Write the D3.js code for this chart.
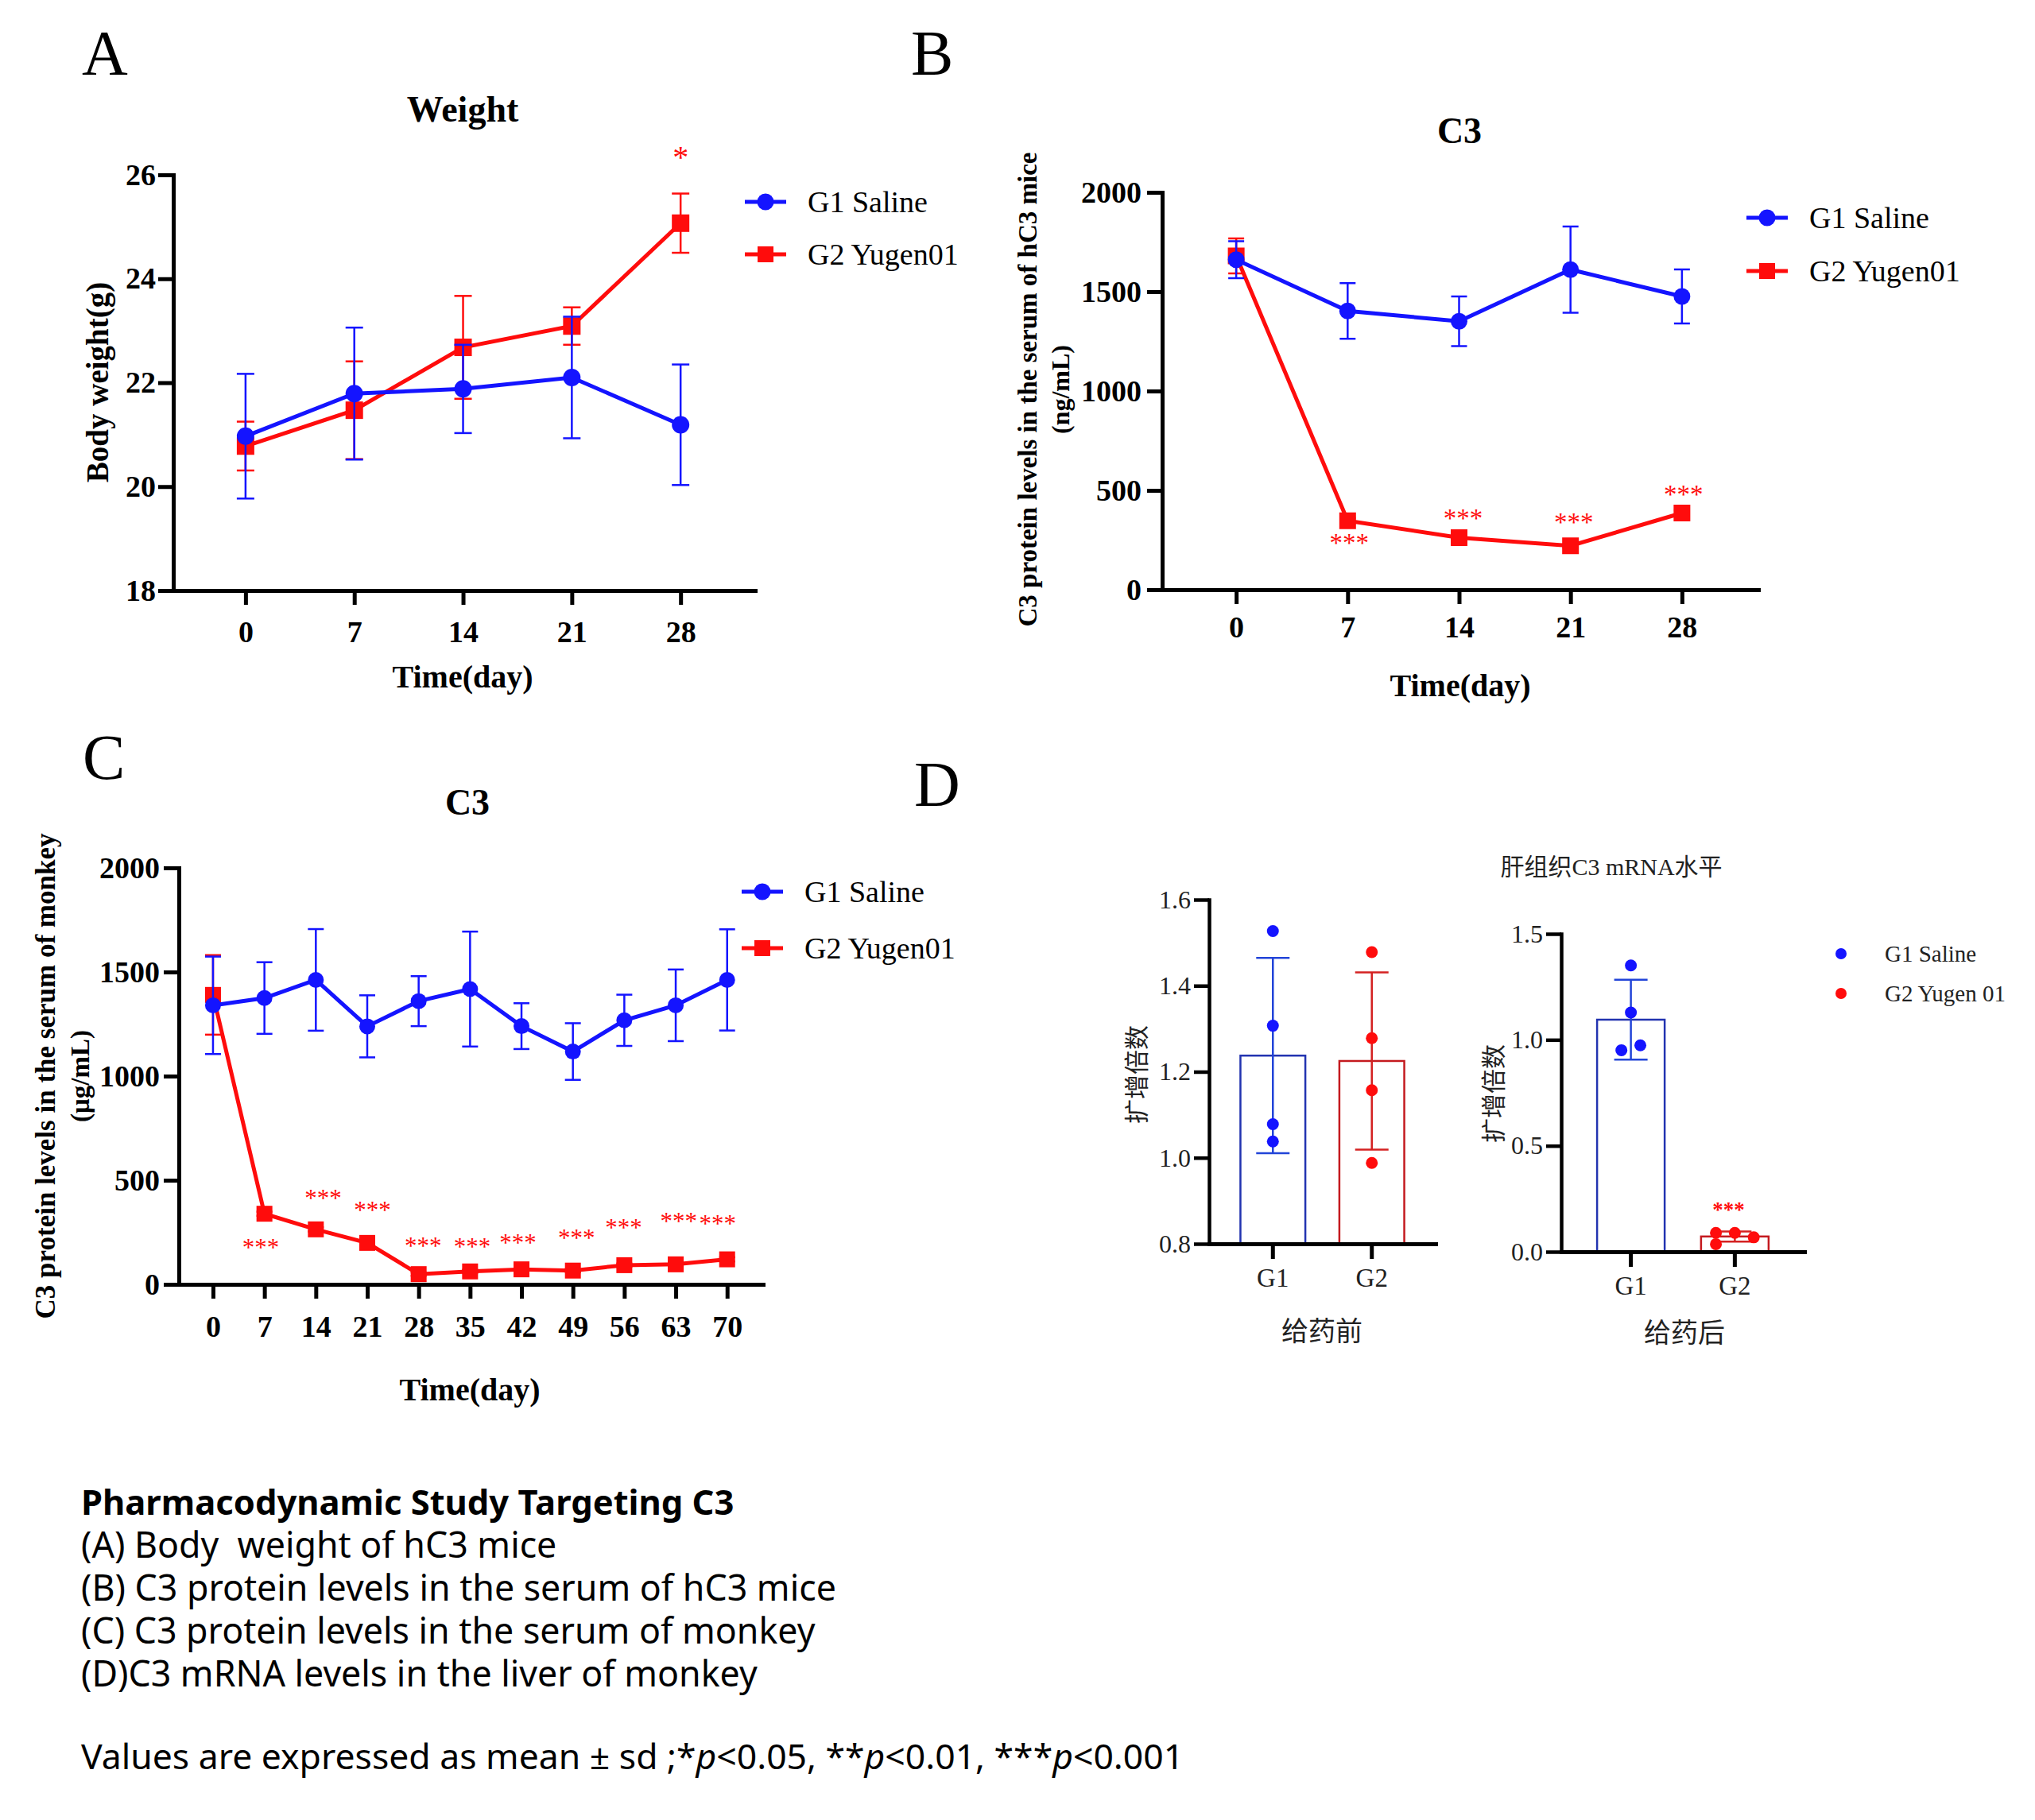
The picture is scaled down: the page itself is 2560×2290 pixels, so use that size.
<!DOCTYPE html>
<html>
<head>
<meta charset="utf-8">
<script src="https://cdn.jsdelivr.net/npm/d3@7"></script>
<style>
  body { margin: 0; background: #fff; }
</style>
</head>
<body>
<svg id="fig"></svg>
<script>
// ---------- data ----------
// (A) body weight of hC3 mice
var weightDays = [0, 7, 14, 21, 28];
var weightSaline = [20.97, 21.79, 21.88, 22.10, 21.19];
var weightSalineSd = [1.20, 1.27, 0.85, 1.17, 1.16];
var weightYugen = [20.78, 21.47, 22.68, 23.09, 25.07];
var weightYugenSd = [0.47, 0.94, 0.99, 0.36, 0.57];
var weightTicks = [18, 20, 22, 24, 26];
var weightStarDays = [28];
var weightStarY = [26.42];
var weightStarText = ["*"];

// (B) C3 protein in the serum of hC3 mice
var mouseDays = [0, 7, 14, 21, 28];
var mouseSaline = [1661, 1403, 1351, 1611, 1476];
var mouseSalineSd = [93, 140, 125, 217, 136];
var mouseYugen = [1680, 347, 262, 221, 386];
var mouseYugenSd = [88, 14, 12, 10, 15];
var mouseTicks = [0, 500, 1000, 1500, 2000];
var mouseStarDays = [7.1, 14.25, 21.2, 28.1];
var mouseStarY = [250, 375, 357, 497];

// (C) C3 protein in the serum of monkey
var monkeyDays = [0, 7, 14, 21, 28, 35, 42, 49, 56, 63, 70];
var monkeySaline = [1340, 1375, 1462, 1239, 1360, 1418, 1240, 1118, 1268, 1340, 1462];
var monkeySalineSd = [234, 172, 244, 149, 120, 276, 110, 136, 123, 172, 243];
var monkeyYugen = [1390, 339, 264, 199, 49, 62, 72, 66, 92, 96, 120];
var monkeyYugenSd = [191, 10, 10, 10, 8, 8, 8, 8, 8, 8, 10];
var monkeyTicks = [0, 500, 1000, 1500, 2000];
var monkeyStarDays = [6.5, 15.0, 21.7, 28.6, 35.3, 41.5, 49.5, 55.9, 63.4, 68.7];
var monkeyStarY = [189, 429, 371, 199, 195, 214, 238, 285, 317, 306];

// (D) C3 mRNA in monkey liver
var groups = ["G1", "G2"];
var preMeans = [1.2375, 1.225];
var preSd = [0.227, 0.206];
var prePoints = [[1.527, 1.307, 1.078, 1.038], [1.478, 1.278, 1.157, 0.988]];
var preJitter = [[0, 0, 0, 0], [0, 0, 0, 0]];
var preTicks = [0.8, 1.0, 1.2, 1.4, 1.6];
var postMeans = [1.095, 0.072];
var postSd = [0.188, 0.024];
var postPoints = [[1.351, 1.129, 0.951, 0.974], [0.089, 0.089, 0.068, 0.036]];
var postJitter = [[0, 0, -0.14, 0.14], [-0.28, 0, 0.28, -0.28]];
var postTicks = [0, 0.5, 1.0, 1.5];
var postStarY = [null, 0.21];

var seriesNames = ["G1 Saline", "G2 Yugen01"];
var dotNames = ["G1 Saline", "G2 Yugen 01"];

// ---------- setup ----------
var W = 2560, H = 2290;
var SERIF = "'Liberation Serif', 'Times New Roman', serif";
var CJK = "'Liberation Serif', 'Noto Sans CJK SC', serif";
var BLUE = "#1414ff", RED = "#ff0c0c";

var svg = d3.select("#fig").attr("width", W).attr("height", H);
svg.append("rect").attr("width", W).attr("height", H).attr("fill", "#fff");

function label(x, y, str, size, opts) {
  opts = opts || {};
  var t = svg.append("text")
    .attr("x", x).attr("y", y)
    .attr("font-family", opts.family || SERIF)
    .attr("font-size", size)
    .attr("font-weight", opts.weight || "normal")
    .attr("text-anchor", opts.anchor || "start")
    .attr("fill", opts.fill || "#000")
    .text(str);
  if (opts.rotate) {
    t.attr("transform", `rotate(-90,${x},${y})`).attr("dy", "0.35em");
  }
  return t;
}

function styleAxis(a, size, weight, width) {
  a.attr("font-family", SERIF).attr("font-size", size).attr("font-weight", weight);
  a.select(".domain").attr("stroke", "#000").attr("stroke-width", width).attr("stroke-linecap", "square");
  a.selectAll(".tick line").attr("stroke", "#000").attr("stroke-width", width);
  a.selectAll(".tick text").attr("fill", "#000");
}

function linePanel(p) {
  var x = d3.scaleLinear().domain(p.xDomain).range(p.xRange);
  var y = d3.scaleLinear().domain([p.yTicks[0], p.yTicks[p.yTicks.length - 1]]).range(p.yRange);
  var g = svg.append("g");

  var ax = g.append("g")
    .attr("transform", `translate(0,${p.yRange[0]})`)
    .call(d3.axisBottom(x).tickValues(p.days).tickFormat(d3.format("d"))
      .tickSize(18).tickSizeOuter(0).tickPadding(p.xPad));
  var ay = g.append("g")
    .attr("transform", `translate(${p.xRange[0]},0)`)
    .call(d3.axisLeft(y).tickValues(p.yTicks).tickFormat(d3.format("d"))
      .tickSize(19).tickSizeOuter(0).tickPadding(p.yPad));
  styleAxis(ax, 38, "bold", 5);
  styleAxis(ay, 38, "bold", 5);

  p.series.forEach(function(s) {
    var pts = p.days.map(function(d, i) { return { d: d, v: s.values[i], e: s.sd[i] }; });
    var eb = g.append("g").attr("stroke", s.color).attr("stroke-width", 2.5);
    eb.selectAll(".bar").data(pts).join("line")
      .attr("x1", d => x(d.d)).attr("x2", d => x(d.d))
      .attr("y1", d => y(d.v - d.e)).attr("y2", d => y(d.v + d.e));
    eb.selectAll(".capT").data(pts).join("line")
      .attr("x1", d => x(d.d) - p.cap).attr("x2", d => x(d.d) + p.cap)
      .attr("y1", d => y(d.v + d.e)).attr("y2", d => y(d.v + d.e));
    eb.selectAll(".capB").data(pts).join("line")
      .attr("x1", d => x(d.d) - p.cap).attr("x2", d => x(d.d) + p.cap)
      .attr("y1", d => y(d.v - d.e)).attr("y2", d => y(d.v - d.e));

    g.append("path").datum(pts)
      .attr("fill", "none").attr("stroke", s.color).attr("stroke-width", 5)
      .attr("d", d3.line().x(d => x(d.d)).y(d => y(d.v)));

    if (s.shape === "circle") {
      g.selectAll(null).data(pts).join("circle")
        .attr("cx", d => x(d.d)).attr("cy", d => y(d.v)).attr("r", p.marker / 2)
        .attr("fill", s.color);
    } else {
      g.selectAll(null).data(pts).join("rect")
        .attr("x", d => x(d.d) - p.marker / 2).attr("y", d => y(d.v) - p.marker / 2)
        .attr("width", p.marker).attr("height", p.marker)
        .attr("fill", s.color);
    }
  });

  // significance marks
  p.starDays.forEach(function(d, i) {
    g.append("text")
      .attr("x", x(d)).attr("y", y(p.starY[i]) + p.starSize * 0.45)
      .attr("text-anchor", "middle")
      .attr("font-family", SERIF).attr("font-size", p.starSize)
      .attr("fill", RED)
      .text(p.starText ? p.starText[i] : "***");
  });
}

function lineLegend(x, y0, dy, size) {
  var shapes = ["circle", "rect"];
  var colors = [BLUE, RED];
  seriesNames.forEach(function(name, i) {
    var y = y0 + i * dy;
    svg.append("line").attr("x1", x).attr("x2", x + 52).attr("y1", y).attr("y2", y)
      .attr("stroke", colors[i]).attr("stroke-width", 5);
    if (shapes[i] === "circle") {
      svg.append("circle").attr("cx", x + 26).attr("cy", y).attr("r", 10.5).attr("fill", colors[i]);
    } else {
      svg.append("rect").attr("x", x + 16).attr("y", y - 10).attr("width", 20).attr("height", 20).attr("fill", colors[i]);
    }
    label(x + 79, y + size * 0.34, name, size);
  });
}

// ---------- panel A ----------
label(103, 94, "A", 80);
label(582, 153, "Weight", 46, { weight: "bold", anchor: "middle" });
linePanel({
  days: weightDays, xDomain: [-4.65, 32.8], xRange: [218, 950],
  yTicks: weightTicks, yRange: [743, 220], xPad: 20, yPad: 3,
  cap: 11, marker: 22,
  series: [
    { values: weightYugen, sd: weightYugenSd, color: RED, shape: "rect" },
    { values: weightSaline, sd: weightSalineSd, color: BLUE, shape: "circle" }
  ],
  starDays: weightStarDays, starY: weightStarY, starText: weightStarText, starSize: 40
});
label(122, 481, "Body weight(g)", 39, { weight: "bold", anchor: "middle", rotate: true });
label(582, 865, "Time(day)", 40, { weight: "bold", anchor: "middle" });
lineLegend(937, 254, 66, 38);

// ---------- panel B ----------
label(1146, 94, "B", 80);
label(1836, 180, "C3", 46, { weight: "bold", anchor: "middle" });
linePanel({
  days: mouseDays, xDomain: [-4.65, 32.8], xRange: [1462, 2212],
  yTicks: mouseTicks, yRange: [742, 242], xPad: 15, yPad: 7,
  cap: 10, marker: 21,
  series: [
    { values: mouseYugen, sd: mouseYugenSd, color: RED, shape: "rect" },
    { values: mouseSaline, sd: mouseSalineSd, color: BLUE, shape: "circle" }
  ],
  starDays: mouseStarDays, starY: mouseStarY, starSize: 33
});
label(1292, 490, "C3 protein levels in the serum of hC3 mice", 33, { weight: "bold", anchor: "middle", rotate: true });
label(1334, 490, "(ng/mL)", 32, { weight: "bold", anchor: "middle", rotate: true });
label(1837, 876, "Time(day)", 40, { weight: "bold", anchor: "middle" });
lineLegend(2197, 274, 67, 38);

// ---------- panel C ----------
label(104, 980, "C", 80);
label(588, 1025, "C3", 46, { weight: "bold", anchor: "middle" });
linePanel({
  days: monkeyDays, xDomain: [-4.65, 74.9], xRange: [225, 960],
  yTicks: monkeyTicks, yRange: [1616, 1092], xPad: 21, yPad: 5,
  cap: 10, marker: 20,
  series: [
    { values: monkeyYugen, sd: monkeyYugenSd, color: RED, shape: "rect" },
    { values: monkeySaline, sd: monkeySalineSd, color: BLUE, shape: "circle" }
  ],
  starDays: monkeyStarDays, starY: monkeyStarY, starSize: 31
});
label(57, 1354, "C3 protein levels in the serum of monkey", 35, { weight: "bold", anchor: "middle", rotate: true });
label(100, 1354, "(\u03bcg/mL)", 33, { weight: "bold", anchor: "middle", rotate: true });
label(591, 1762, "Time(day)", 40, { weight: "bold", anchor: "middle" });
lineLegend(933, 1122, 71, 38);

// ---------- panel D ----------
label(1150, 1014, "D", 80);
label(2027, 1101, "肝组织C3 mRNA水平", 30, { family: CJK, anchor: "middle", fill: "#222" });

function barPanel(p) {
  var x = d3.scaleBand().domain(groups).range(p.xRange).paddingInner(p.pi).paddingOuter(p.po);
  var y = d3.scaleLinear().domain([p.yTicks[0], p.yTicks[p.yTicks.length - 1]]).range(p.yRange);
  var g = svg.append("g");
  var colors = [BLUE, RED];
  var edges = ["#2233b0", "#c41a1f"];
  var bars = ["#2244d8", "#d42222"];

  groups.forEach(function(grp, i) {
    var cx = x(grp) + x.bandwidth() / 2;
    g.append("rect")
      .attr("x", x(grp)).attr("y", y(p.means[i]))
      .attr("width", x.bandwidth()).attr("height", y(p.yTicks[0]) - y(p.means[i]))
      .attr("fill", "#fff").attr("stroke", edges[i]).attr("stroke-width", 2.5);
    var hi = p.means[i] + p.sd[i], lo = p.means[i] - p.sd[i];
    var eb = g.append("g").attr("stroke", bars[i]).attr("stroke-width", 2.5);
    eb.append("line").attr("x1", cx).attr("x2", cx).attr("y1", y(lo)).attr("y2", y(hi));
    eb.append("line").attr("x1", cx - 21).attr("x2", cx + 21).attr("y1", y(hi)).attr("y2", y(hi));
    eb.append("line").attr("x1", cx - 21).attr("x2", cx + 21).attr("y1", y(lo)).attr("y2", y(lo));
    g.selectAll(null).data(p.points[i]).join("circle")
      .attr("cx", (d, k) => cx + p.jitter[i][k] * x.bandwidth())
      .attr("cy", d => y(d)).attr("r", 7.5)
      .attr("fill", colors[i]);
    if (p.stars && p.stars[i] != null) {
      g.append("text").attr("x", cx - 8).attr("y", y(p.stars[i]) + 12)
        .attr("text-anchor", "middle").attr("font-family", SERIF).attr("font-size", 27)
        .attr("font-weight", "bold").attr("fill", RED).text("***");
    }
  });

  var ax = g.append("g").attr("transform", `translate(0,${p.yRange[0]})`)
    .call(d3.axisBottom(x).tickSize(19).tickSizeOuter(0).tickPadding(p.xPad));
  var ay = g.append("g").attr("transform", `translate(${p.xRange[0]},0)`)
    .call(d3.axisLeft(y).tickValues(p.yTicks).tickFormat(d3.format(".1f")).tickSize(19).tickSizeOuter(0).tickPadding(4));
  styleAxis(ax, 33, "normal", 5);
  styleAxis(ay, 32, "normal", 4.5);
  ax.selectAll(".tick text").attr("fill", "#222");
  ay.selectAll(".tick text").attr("fill", "#222");
}

barPanel({
  xRange: [1521, 1806], pi: 0.344, po: 0.317, yRange: [1565, 1132], yTicks: preTicks,
  means: preMeans, sd: preSd, points: prePoints, jitter: preJitter, xPad: 12
});
barPanel({
  xRange: [1964, 2270], pi: 0.35, po: 0.345, yRange: [1575, 1175], yTicks: postTicks,
  means: postMeans, sd: postSd, points: postPoints, jitter: postJitter, xPad: 12, stars: postStarY
});
label(1430, 1352, "扩增倍数", 31, { family: CJK, anchor: "middle", rotate: true, fill: "#222" });
label(1879, 1376, "扩增倍数", 31, { family: CJK, anchor: "middle", rotate: true, fill: "#222" });
label(1663, 1687, "给药前", 34, { family: CJK, anchor: "middle", fill: "#222" });
label(2119, 1689, "给药后", 34, { family: CJK, anchor: "middle", fill: "#222" });

[BLUE, RED].forEach(function(c, i) {
  svg.append("circle").attr("cx", 2316).attr("cy", 1200 + i * 50).attr("r", 7).attr("fill", c);
  label(2371, 1200 + i * 50 + 10, dotNames[i], 29, { fill: "#222" });
});

// ---------- caption ----------
var SANS = "'Noto Sans', 'Open Sans', sans-serif";
var captionLines = [
  "(A) Body\u00a0 weight of hC3 mice",
  "(B) C3 protein levels in the serum of hC3 mice",
  "(C) C3 protein levels in the serum of monkey",
  "(D)C3 mRNA levels in the liver of monkey"
];
label(102, 1906, "Pharmacodynamic Study Targeting C3", 43.5, { family: SANS, weight: "bold" });
captionLines.forEach(function(s, i) {
  label(102, 1960 + i * 54, s, 44.7, { family: SANS });
});
var note = label(102, 2226, "", 44.5, { family: SANS });
[["Values are expressed as mean \u00b1 sd ;*", false], ["p", true], ["<0.05, **", false],
 ["p", true], ["<0.01, ***", false], ["p", true], ["<0.001", false]].forEach(function(part) {
  note.append("tspan").attr("font-style", part[1] ? "italic" : "normal").text(part[0]);
});
</script>
</body>
</html>
